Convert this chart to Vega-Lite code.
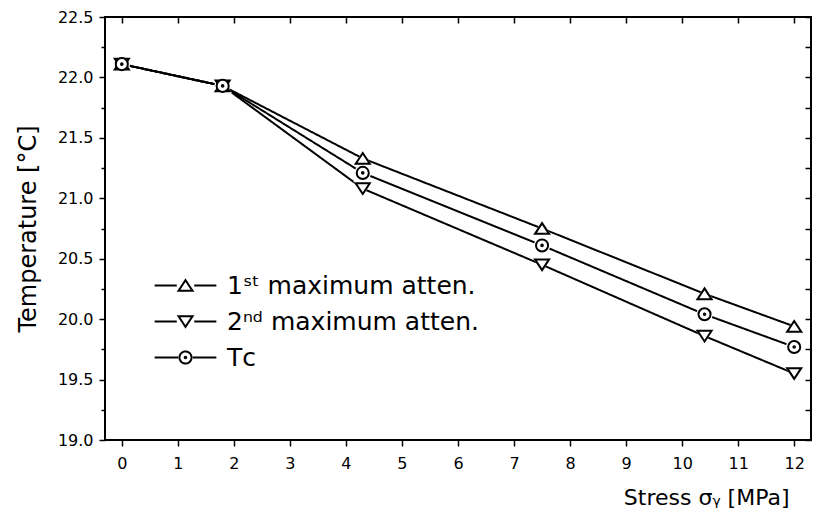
{
  "$schema": "https://vega.github.io/schema/vega-lite/v6.json",
  "autosize": {"type": "none"},
  "padding": {"left": 105, "top": 17, "right": 5, "bottom": 86},
  "width": 706,
  "height": 423,
  "background": "white",
  "config": {
    "font": "DejaVu Sans",
    "view": {"stroke": "black", "strokeWidth": 2},
    "axis": {"labelFont": "DejaVu Sans", "titleFont": "DejaVu Sans", "labelColor": "black", "titleColor": "black", "tickColor": "black", "tickWidth": 1.5, "grid": false, "domain": false, "titleFontWeight": "normal"},
    "legend": {"labelFont": "DejaVu Sans", "labelColor": "black"}
  },
  "data": {
    "values": [
      {"stress": 0, "temp": 22.11, "series": "1ˢᵗ maximum atten."},
      {"stress": 1.8, "temp": 21.93, "series": "1ˢᵗ maximum atten."},
      {"stress": 4.3, "temp": 21.33, "series": "1ˢᵗ maximum atten."},
      {"stress": 7.5, "temp": 20.75, "series": "1ˢᵗ maximum atten."},
      {"stress": 10.4, "temp": 20.21, "series": "1ˢᵗ maximum atten."},
      {"stress": 12, "temp": 19.94, "series": "1ˢᵗ maximum atten."},
      {"stress": 0, "temp": 22.11, "series": "2ⁿᵈ maximum atten."},
      {"stress": 1.8, "temp": 21.93, "series": "2ⁿᵈ maximum atten."},
      {"stress": 4.3, "temp": 21.08, "series": "2ⁿᵈ maximum atten."},
      {"stress": 7.5, "temp": 20.45, "series": "2ⁿᵈ maximum atten."},
      {"stress": 10.4, "temp": 19.86, "series": "2ⁿᵈ maximum atten."},
      {"stress": 12, "temp": 19.55, "series": "2ⁿᵈ maximum atten."},
      {"stress": 0, "temp": 22.11, "series": "Tᴄ"},
      {"stress": 1.8, "temp": 21.93, "series": "Tᴄ"},
      {"stress": 4.3, "temp": 21.21, "series": "Tᴄ"},
      {"stress": 7.5, "temp": 20.61, "series": "Tᴄ"},
      {"stress": 10.4, "temp": 20.04, "series": "Tᴄ"},
      {"stress": 12, "temp": 19.77, "series": "Tᴄ"}
    ]
  },
  "resolve": {"axis": {"x": "independent", "y": "independent"}},
  "layer": [
    {
      "mark": {"type": "line", "color": "black", "strokeWidth": 2},
      "encoding": {
        "x": {
          "field": "stress", "type": "quantitative",
          "scale": {"domain": [-0.3, 12.3], "nice": false, "zero": false},
          "axis": {"orient": "bottom", "values": [0,1,2,3,4,5,6,7,8,9,10,11,12], "tickSize": 6, "labelFontSize": 16, "labelPadding": 9, "labelFlush": false, "title": "Stress  σᵧ [MPa]", "titleFontSize": 22, "titleAnchor": "end", "titleAlign": "right", "titleX": 684, "titlePadding": 16}
        },
        "y": {
          "field": "temp", "type": "quantitative",
          "scale": {"domain": [19.0, 22.5], "nice": false, "zero": false},
          "axis": {"orient": "left", "values": [19, 19.25, 19.5, 19.75, 20, 20.25, 20.5, 20.75, 21, 21.25, 21.5, 21.75, 22, 22.25, 22.5],
            "tickSize": {"condition": {"test": "datum.value % 0.5 === 0", "value": 6}, "value": 4},
            "labelExpr": "datum.value % 0.5 === 0 ? format(datum.value, '.1f') : ''",
            "labelFontSize": 16, "labelPadding": 6, "labelFlush": false,
            "title": "Temperature  [°C]", "titleFontSize": 24, "titlePadding": 17}
        },
        "strokeDash": {
          "field": "series", "type": "nominal",
          "scale": {"range": [[1, 0], [1, 0], [1, 0]]},
          "legend": {"orient": "none", "legendX": 68, "legendY": 256, "title": null, "padding": 0,
            "symbolSize": 180, "symbolStrokeColor": "black", "symbolStrokeWidth": 2, "symbolFillColor": "white",
            "labelFontSize": 25, "labelOffset": 29, "labelLimit": 500, "rowPadding": 10,
            "encode": {"symbols": {"update": {
              "shape": {"signal": "datum.index === 0 ? 'M-4.6,0H-1.3M1.3,0H4.6M0,-0.8L1.05,0.8L-1.05,0.8Z' : datum.index === 1 ? 'M-4.6,0H-1.3M1.3,0H4.6M0,0.8L1.05,-0.8L-1.05,-0.8Z' : 'M-4.6,0H-1.1M1.1,0H4.6M0.9,0A0.9,0.9 0 1,1 -0.9,0A0.9,0.9 0 1,1 0.9,0ZM0.12,0A0.12,0.12 0 1,1 -0.12,0A0.12,0.12 0 1,1 0.12,0Z'"},
              "stroke": {"value": "black"},
              "strokeWidth": {"value": 2},
              "fill": {"value": "white"},
              "size": {"value": 180}
            }}}}
        },
        "detail": {"field": "series", "type": "nominal"}
      }
    },
    {
      "mark": {"type": "point", "filled": true, "color": "white", "opacity": 1, "size": 330},
      "encoding": {
        "x": {"field": "stress", "type": "quantitative", "axis": null},
        "y": {"field": "temp", "type": "quantitative", "axis": null},
        "shape": {"field": "series", "type": "nominal", "legend": null}
      }
    },
    {
      "mark": {"type": "point", "filled": false, "fill": "white", "fillOpacity": 1, "stroke": "black", "strokeWidth": 2, "size": 180, "opacity": 1},
      "encoding": {
        "x": {
          "field": "stress", "type": "quantitative",
          "axis": {"orient": "top", "values": [0,1,2,3,4,5,6,7,8,9,10,11,12], "tickSize": -6, "labels": false, "title": null}
        },
        "y": {
          "field": "temp", "type": "quantitative",
          "axis": {"orient": "right", "values": [19, 19.25, 19.5, 19.75, 20, 20.25, 20.5, 20.75, 21, 21.25, 21.5, 21.75, 22, 22.25, 22.5], "tickSize": -6, "labels": false, "title": null}
        },
        "shape": {
          "field": "series", "type": "nominal",
          "scale": {"range": [
            "M0,-0.8L1.05,0.8L-1.05,0.8Z",
            "M0,0.8L1.05,-0.8L-1.05,-0.8Z",
            "M0.9,0A0.9,0.9 0 1,1 -0.9,0A0.9,0.9 0 1,1 0.9,0ZM0.12,0A0.12,0.12 0 1,1 -0.12,0A0.12,0.12 0 1,1 0.12,0Z"
          ]},
          "legend": null
        }
      }
    }
  ]
}
